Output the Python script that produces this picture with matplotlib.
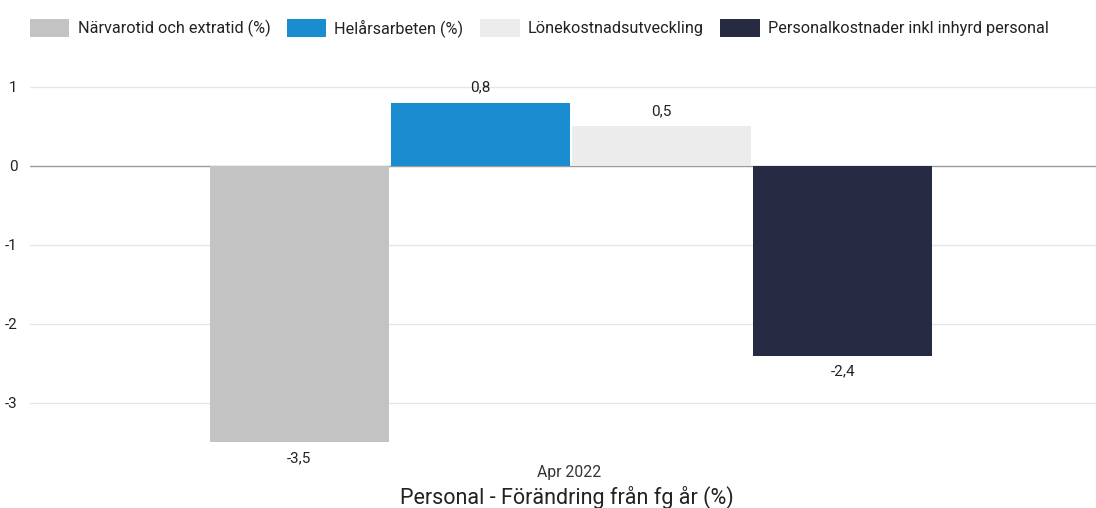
import matplotlib.pyplot as plt
from matplotlib.patches import Patch

plt.rcParams['font.family'] = ['Roboto', 'DejaVu Sans']

category = "Apr 2022"
series = ["Närvarotid och extratid (%)", "Helårsarbeten (%)",
          "Lönekostnadsutveckling", "Personalkostnader inkl inhyrd personal"]
values = [-3.5, 0.8, 0.5, -2.4]
colors = ["#c3c3c3", "#1a8dd0", "#ececec", "#262a42"]
yticks = [-3, -2, -1, 0, 1]

fig = plt.figure(figsize=(10.96, 5.08), dpi=100)
ax = fig.add_axes([0.0274, 0.129, 0.9726, 0.7155])

w = 0.168
step = 0.17
for i, (name, v, c) in enumerate(zip(series, values, colors)):
    x = (i - 1.5) * step
    ax.bar(x, v, width=w, color=c, zorder=3)
    lab = f"{v:.1f}".replace(".", ",")
    if v >= 0:
        ax.annotate(lab, (x, v), xytext=(0, 6), textcoords="offset points",
                    ha="center", va="bottom", fontsize=11, color="#222222")
    else:
        ax.annotate(lab, (x, v), xytext=(0, -6), textcoords="offset points",
                    ha="center", va="top", fontsize=11, color="#222222")

ax.set_xlim(-0.5075, 0.4925)
ax.set_ylim(-3.5, 1.1)
ax.set_yticks(yticks)
ax.set_yticklabels([str(t) for t in yticks])
ax.tick_params(axis='y', length=0, pad=9, labelsize=11, labelcolor="#222222")
ax.set_xticks([])
for y in yticks:
    ax.axhline(y, color="#9a9a9a" if y == 0 else "#e6e6e6", lw=1, zorder=1)
for s in ax.spines.values():
    s.set_visible(False)

fig.text(0.5195, 0.069, category, ha="center", va="center", fontsize=11.3, color="#333333")
fig.text(0.517, 0.021, "Personal - Förändring från fg år (%)", ha="center", va="center",
         fontsize=15.5, color="#222222")

handles = [Patch(facecolor=c, label=s) for s, c in zip(series, colors)]
fig.legend(handles=handles, loc="center", bbox_to_anchor=(0.492, 0.945), ncol=4,
           frameon=False, fontsize=11.7, handlelength=2.45, handleheight=1.3,
           handletextpad=0.5, columnspacing=1.0, labelcolor="#222222")

fig.savefig("out.png", dpi=100)
